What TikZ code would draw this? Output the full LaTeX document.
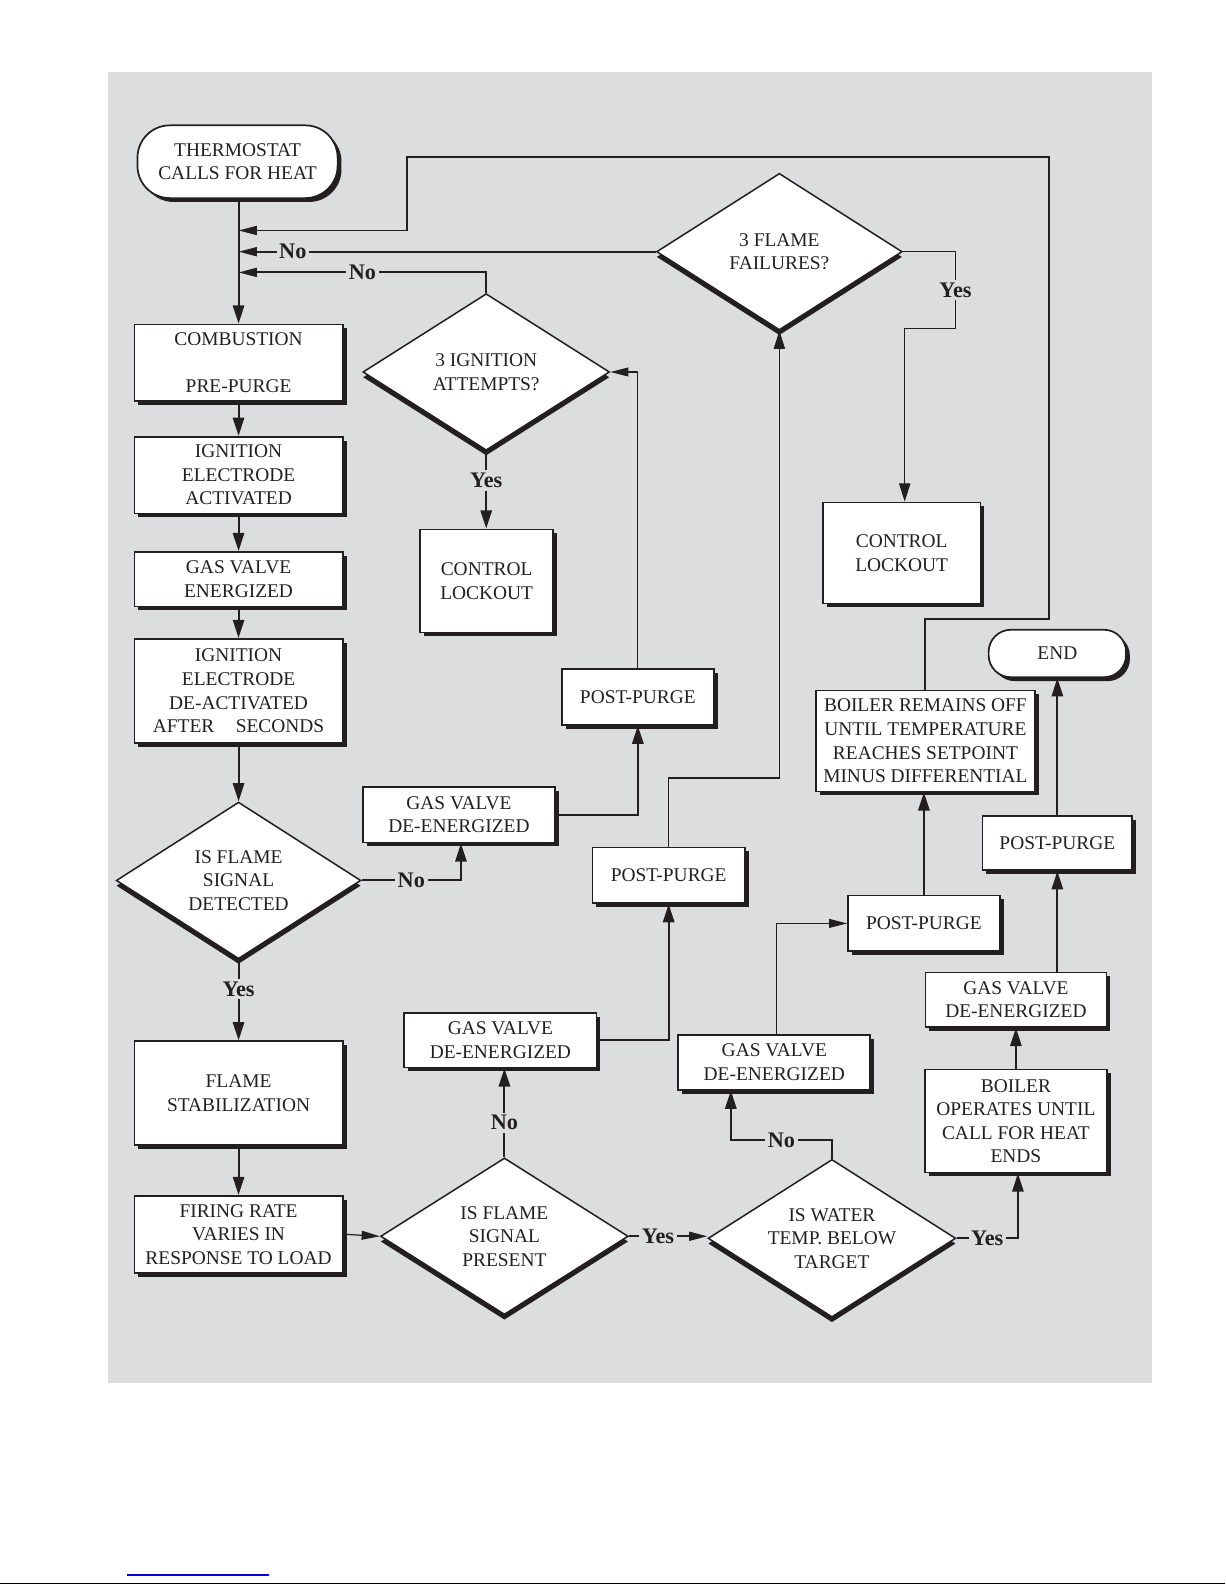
\documentclass[tikz,border=0pt]{standalone}
\usepackage{fontspec}
\setmainfont{Liberation Serif}
\usetikzlibrary{arrows.meta,shadows,shapes.geometric}
\definecolor{bgc}{HTML}{DCDDDF}
\definecolor{ink}{HTML}{231F20}
\definecolor{linkblue}{HTML}{0000DD}
\begin{document}
\begin{tikzpicture}[x=0.5pt,y=-0.5pt,
  every node/.style={font=\fontsize{9.6}{11.65}\selectfont, text=ink},
  box/.style={draw=ink, line width=0.85pt, fill=white, align=center, inner sep=0pt,
    drop shadow={shadow xshift=1.9pt, shadow yshift=-1.9pt, fill=ink, opacity=1}},
  term/.style={box},
  diamd/.style={shape=diamond, draw=ink, line width=0.75pt, fill=white, align=center,
    inner sep=0pt, aspect=1.56,
    drop shadow={shadow xshift=0pt, shadow yshift=-2.6pt, fill=ink, opacity=1}},
  conn/.style={draw=ink, line width=0.95pt},
  thinconn/.style={draw=ink, line width=0.6pt},
  varrow/.style={-{Triangle[length=9pt,width=5.6pt]}},
  harrow/.style={-{Triangle[length=9pt,width=4.4pt]}},
  lab/.style={font=\fontsize{11}{13}\selectfont\bfseries, fill=bgc, inner sep=1.3pt, text=ink}
]
\useasboundingbox (0,0) rectangle (1212,1568);
\fill[bgc] (107,71) rectangle (1140,1368);
\draw[black, line width=0.7pt] (0,1566.5) -- (1212,1566.5);
\draw[linkblue, line width=0.6pt] (126,1558) -- (266,1558);

% left column
\node[term, rounded corners=16pt, minimum width=99pt, minimum height=36pt] (thermo) at (235,160) {THERMOSTAT\\CALLS FOR HEAT};
\node[box, minimum width=103pt, minimum height=38pt] (comb) at (236,359) {COMBUSTION\\\mbox{}\\PRE-PURGE};
\node[box, minimum width=103pt, minimum height=38pt] (ign1) at (236,470) {IGNITION\\ELECTRODE\\ACTIVATED};
\node[box, minimum width=103pt, minimum height=27pt] (gasv) at (236,573) {GAS VALVE\\ENERGIZED};
\node[box, minimum width=103pt, minimum height=51.5pt] (deact) at (236,683.5) {IGNITION\\ELECTRODE\\DE-ACTIVATED\\AFTER\hspace{1.1em}SECONDS};
\node[diamd, minimum width=121pt, minimum height=77.5pt] (det) at (236,871) {IS FLAME\\SIGNAL\\DETECTED};
\node[box, minimum width=103pt, minimum height=51.5pt] (stab) at (236,1081.5) {FLAME\\STABILIZATION};
\node[box, minimum width=103pt, minimum height=38pt] (fire) at (236,1221) {FIRING RATE\\VARIES IN\\RESPONSE TO LOAD};

% middle
\node[diamd, minimum width=122pt, minimum height=77.5pt] (ignd) at (481,368) {3 IGNITION\\ATTEMPTS?};
\node[box, minimum width=66pt, minimum height=51pt] (lockA) at (481.4,574.7) {CONTROL\\LOCKOUT};
\node[box, minimum width=75pt, minimum height=27.5pt] (postA) at (631,689.5) {POST-PURGE};
\node[box, minimum width=95pt, minimum height=27.5pt] (gasA) at (454,806) {GAS VALVE\\DE-ENERGIZED};
\node[box, minimum width=75.5pt, minimum height=27.5pt] (postB) at (661.5,866) {POST-PURGE};
\node[box, minimum width=95pt, minimum height=27pt] (gasB) at (495,1029) {GAS VALVE\\DE-ENERGIZED};
\node[diamd, minimum width=122.5pt, minimum height=77.5pt] (pres) at (499,1223) {IS FLAME\\SIGNAL\\PRESENT};
\node[diamd, minimum width=121.5pt, minimum height=77.5pt] (flamed) at (771,249) {3 FLAME\\FAILURES?};

% right
\node[box, minimum width=78pt, minimum height=50pt] (lockB) at (892,547) {CONTROL\\LOCKOUT};
\node[term, rounded corners=11pt, minimum width=68pt, minimum height=23.5pt] (endn) at (1046,646.5) {END};
\node[box, minimum width=108.5pt, minimum height=50pt] (remains) at (915.5,733) {BOILER REMAINS OFF\\UNTIL TEMPERATURE\\REACHES SETPOINT\\MINUS DIFFERENTIAL};
\node[box, minimum width=74pt, minimum height=27pt] (postD) at (1046,834) {POST-PURGE};
\node[box, minimum width=75pt, minimum height=27.5pt] (postC) at (914,913.5) {POST-PURGE};
\node[box, minimum width=89.5pt, minimum height=27pt] (gasD) at (1005,989) {GAS VALVE\\DE-ENERGIZED};
\node[box, minimum width=95pt, minimum height=27pt] (gasC) at (766,1051) {GAS VALVE\\DE-ENERGIZED};
\node[box, minimum width=90pt, minimum height=51pt] (operates) at (1005,1109) {BOILER\\OPERATES UNTIL\\CALL FOR HEAT\\ENDS};
\node[diamd, minimum width=122.5pt, minimum height=78pt] (water) at (823,1225) {IS WATER\\TEMP. BELOW\\TARGET};

% junctions on main line
\coordinate (j1) at (236,228);
\coordinate (j2) at (236,249);
\coordinate (j3) at (236,269.5);
\coordinate (loopR) at (1038,155);
\coordinate (loopL) at (403,155);

% left column connectors
\draw[conn,varrow] (thermo.south -| comb.north) -- (comb.north);
\draw[conn,varrow] (comb.south) -- (ign1.north);
\draw[conn,varrow] (ign1.south) -- (gasv.north);
\draw[conn,varrow] (gasv.south) -- (deact.north);
\draw[conn,varrow] (deact.south) -- (det.north);
\draw[conn,varrow] (det.south) -- node[lab,pos=0.37]{Yes} (stab.north);
\draw[conn,varrow] (stab.south) -- (fire.north);
\draw[thinconn,harrow] (fire.east) -- (pres.west);

% return loops
\draw[conn,harrow] (remains.north) -- ++(0,-70) -| (loopR) -- (loopL) |- (j1);
\draw[conn,harrow] (flamed.west) -- node[lab,pos=0.87]{No} (j2);
\draw[conn,harrow] (ignd.north) |- node[lab,pos=0.75]{No} (j3);

% detection failure branch
\draw[conn,varrow] (det.east) -| node[lab,pos=0.25]{No} ([xshift=1pt]gasA.south);
\draw[conn,varrow] (gasA.east) -| (postA.south);
\draw[thinconn,harrow] (postA.north) |- (ignd.east);
\draw[conn,varrow] (ignd.south) -- node[lab,pos=0.38]{Yes} (ignd.south |- lockA.north);

% flame loss branch
\draw[conn,varrow] (pres.north) -- node[lab,pos=0.39]{No} (pres.north |- gasB.south);
\draw[conn,varrow] (gasB.east) -| (postB.south);
\draw[thinconn,varrow] (postB.north) -- ++(0,-68) -| (flamed.south);
\draw[thinconn,varrow] (flamed.east) -- ++(52,0) -- node[lab]{Yes} ++(0,76) -| ([xshift=1.5pt]lockB.north);

% water temperature branch
\draw[conn,harrow] (pres.east) -- node[lab,pos=0.37]{Yes} (pres.east -| water.west);
\draw[conn,varrow] (water.north) -- ++(0,-18.5) -| node[lab,pos=0.25]{No} ([xshift=-21.5pt]gasC.south);
\draw[thinconn,harrow] ([xshift=1pt]gasC.north) |- (postC.west);
\draw[conn,varrow] (postC.north) -- (postC.north |- remains.south);
\draw[conn,varrow] (water.east) -| node[lab,pos=0.25]{Yes} ([xshift=1pt]operates.south);
\draw[conn,varrow] (operates.north) -- (gasD.south);
\draw[conn,varrow] (postD.south |- gasD.north) -- (postD.south);
\draw[conn,varrow] (postD.north) -- (endn.south);
\end{tikzpicture}
\end{document}
